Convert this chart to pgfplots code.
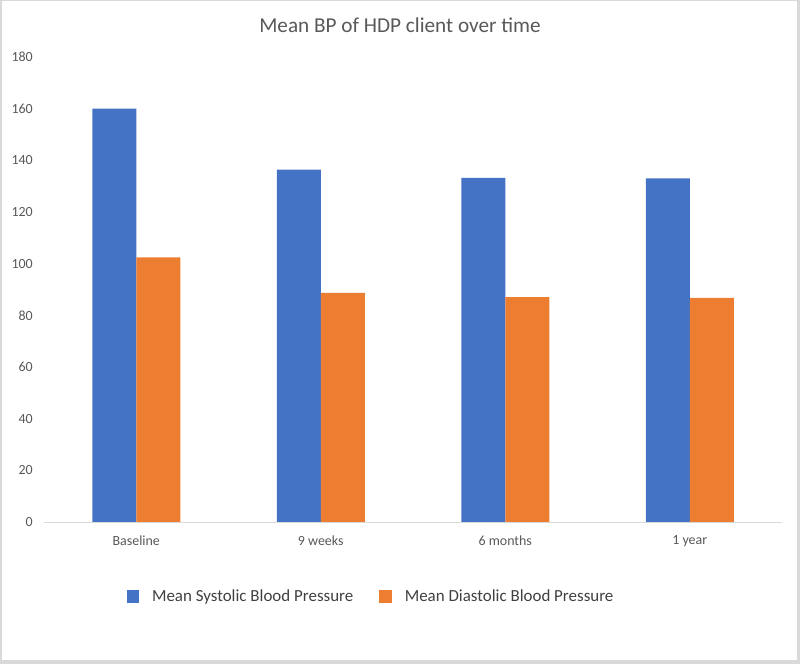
\documentclass[border=0pt]{standalone}
\usepackage{fontspec}
\setmainfont{Carlito}
\usepackage{pgfplots}
\pgfplotsset{compat=1.18}
\definecolor{sysblue}{HTML}{4472C4}
\definecolor{diaorange}{HTML}{ED7D31}
\definecolor{txtgray}{HTML}{595959}
\definecolor{legtxt}{HTML}{404040}
\definecolor{linegray}{HTML}{D9D9D9}
\begin{document}
\begin{tikzpicture}
\path[use as bounding box] (0,0) rectangle (800bp,664bp);
\fill[linegray] (0,0) rectangle (800bp,664bp);
\fill[white] (2bp,4bp) rectangle (797bp,663bp);
\node[text=txtgray, font=\fontsize{21.3}{25}\selectfont] at (400bp,639bp) {Mean BP of HDP client over time};
\begin{axis}[
  at={(44bp,142bp)}, anchor=south west,
  scale only axis, width=738bp, height=465bp,
  ymin=0, ymax=180, ytick={0,20,...,180},
  xmin=-0.5, xmax=3.5, xtick={0,1,2,3},
  xticklabels={Baseline,9 weeks,6 months,1 year},
  ybar=0pt, bar width=44bp,
  axis x line*=bottom, axis y line*=left,
  y axis line style={draw=none},
  x axis line style={draw=linegray, line width=1bp, -},
  major tick length=0pt,
  tick style={draw=none},
  /pgf/number format/assume math mode=true,
  tick label style={text=txtgray, font=\fontsize{14}{16}\selectfont},
  yticklabel style={inner sep=0pt, anchor=east, xshift=-11bp},
  xticklabel style={inner sep=0pt, anchor=center, yshift=-19bp},
  legend style={draw=none, fill=none, at={(0.4417,-0.161)}, anchor=center,
    legend columns=2, font=\fontsize{17}{19}\selectfont, text=legtxt,
    nodes={inner sep=0pt},
    /tikz/every odd column/.append style={column sep=13bp},
    /tikz/every even column/.append style={column sep=26bp}},
  legend image code/.code={\fill[#1] (0bp,-6.5bp) rectangle (12.5bp,6.5bp);},
]
\addplot[draw=none, fill=sysblue] coordinates {(0,160.0) (1,136.4) (2,133.2) (3,133.0)};
\addplot[draw=none, fill=diaorange] coordinates {(0,102.4) (1,88.7) (2,87.0) (3,86.8)};
\legend{Mean Systolic Blood Pressure, Mean Diastolic Blood Pressure}
\end{axis}
\end{tikzpicture}
\end{document}
